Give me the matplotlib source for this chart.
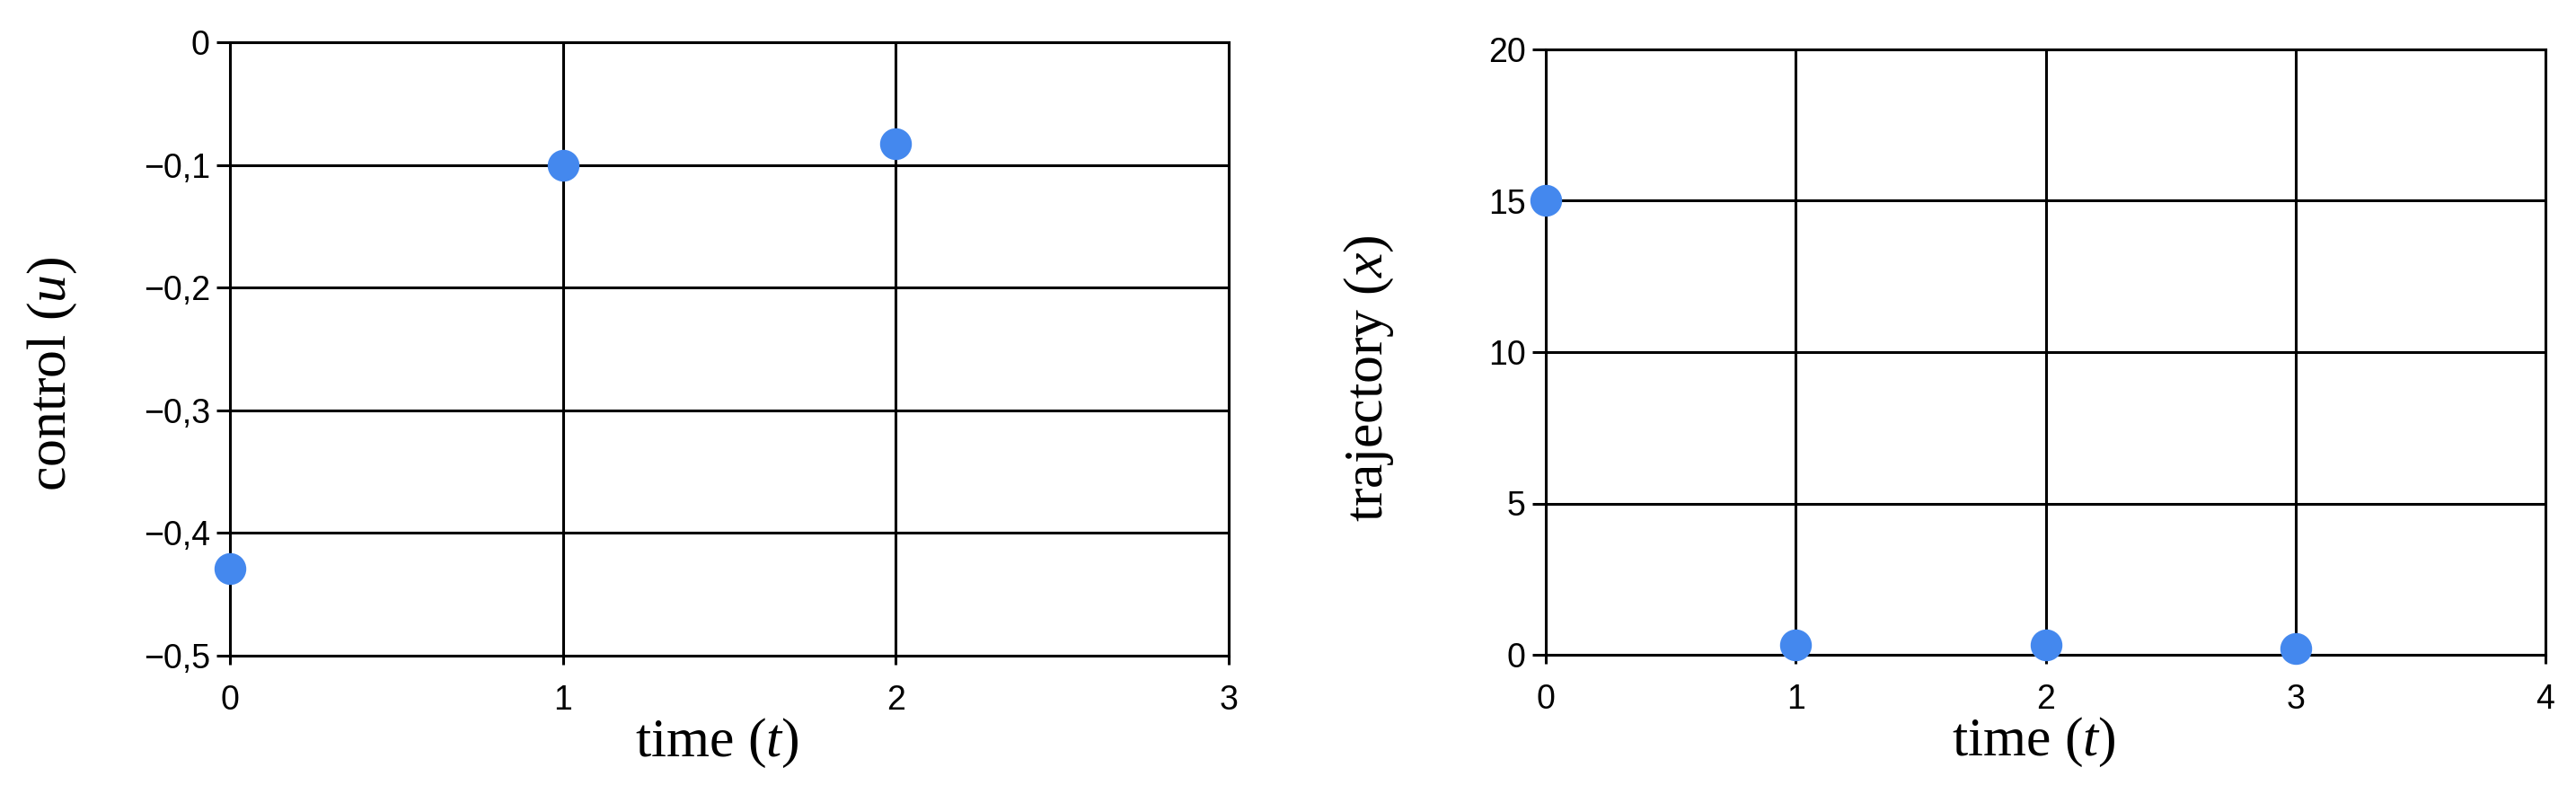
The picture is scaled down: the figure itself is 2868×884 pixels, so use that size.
import matplotlib
matplotlib.use('Agg')
import matplotlib.pyplot as plt

# data
t_u = [0, 1, 2]
u_vals = [-0.429, -0.1, -0.083]
u_ticks = [0, -0.1, -0.2, -0.3, -0.4, -0.5]
u_xticks = [0, 1, 2, 3]

t_x = [0, 1, 2, 3]
x_vals = [15, 0.34, 0.33, 0.22]
x_ticks = [0, 5, 10, 15, 20]
x_xticks = [0, 1, 2, 3, 4]

plt.rcParams['mathtext.fontset'] = 'custom'
plt.rcParams['mathtext.it'] = 'Liberation Serif:italic'
plt.rcParams['mathtext.rm'] = 'Liberation Serif'

W, H = 2868, 884
fig = plt.figure(figsize=(W / 100, H / 100), dpi=100)

dot_color = '#4488ee'
lw = 2.2


def fmt(v):
    s = ('%g' % v).replace('.', ',')
    return s.replace('-', '\u2212')


def setup(ax, xticks, yticks, xlabel, ylabel):
    ax.set_xlim(xticks[0], xticks[-1])
    ax.set_ylim(min(yticks), max(yticks))
    ax.set_xticks(xticks)
    ax.set_yticks(yticks)
    ax.set_xticklabels([fmt(v) for v in xticks], fontfamily='Liberation Sans', fontsize=27)
    ax.set_yticklabels([fmt(v) for v in yticks], fontfamily='Liberation Sans', fontsize=27)
    ax.tick_params(axis='y', length=11, width=lw, pad=5, direction='out')
    ax.tick_params(axis='x', length=7, width=lw, pad=16, direction='out')
    ax.grid(True, color='black', linewidth=lw)
    for sp in ax.spines.values():
        sp.set_linewidth(lw)
        sp.set_color('black')
    ax.set_xlabel(xlabel, fontfamily='Liberation Serif', fontsize=44.5, va='center')
    ax.set_ylabel(ylabel, fontfamily='Liberation Serif', fontsize=44.5, va='center')
    ax.set_axisbelow(True)


# left: control
ax1 = fig.add_axes([256 / W, (H - 730) / H, (1368 - 256) / W, (730 - 47) / H])
ax1.plot(t_u, u_vals, 'o', color=dot_color, markersize=24.5, clip_on=False, zorder=5)
setup(ax1, u_xticks, u_ticks, 'time ($t$)', 'control ($u$)')
ax1.xaxis.set_label_coords(0.488, -0.142)
ax1.yaxis.set_label_coords(-0.178, 0.46)

# right: trajectory
ax2 = fig.add_axes([1721 / W, (H - 729) / H, (2834 - 1721) / W, (729 - 55) / H])
ax2.plot(t_x, x_vals, 'o', color=dot_color, markersize=24.5, clip_on=False, zorder=5)
setup(ax2, x_xticks, x_ticks, 'time ($t$)', 'trajectory ($x$)')
ax2.xaxis.set_label_coords(0.488, -0.145)
ax2.yaxis.set_label_coords(-0.177, 0.457)

plt.savefig('out.png', dpi=100)
